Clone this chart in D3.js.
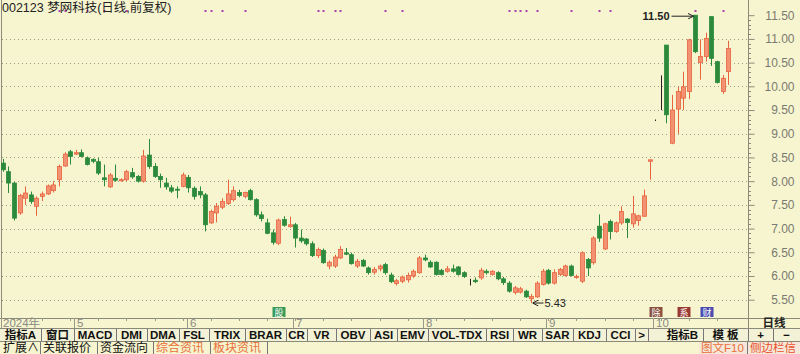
<!DOCTYPE html>
<html>
<head>
<meta charset="utf-8">
<script src="https://cdn.jsdelivr.net/npm/d3@7/dist/d3.min.js"></script>
<style>
  body { margin: 0; background: #f7f5cf; }
  svg { display: block; font-family: Arial, "Liberation Sans", "Noto Sans CJK SC", sans-serif; }
</style>
</head>
<body>
<div id="chart"></div>
<script>
// Daily candles, 2024-04-12 .. 2024-10-25 (前复权)
var opens = [8.38,8.20,7.96,7.33,7.64,7.71,7.47,7.68,7.73,7.80,8.03,8.32,8.62,8.57,8.60,8.49,8.46,8.41,8.07,7.88,
             8.06,8.01,8.03,8.18,8.10,8.00,8.55,8.31,8.10,7.96,7.86,7.83,7.89,8.08,7.85,7.78,7.71,7.12,7.33,7.45,
             7.53,7.61,7.76,7.68,7.80,7.61,7.29,7.12,6.91,6.69,7.19,7.04,7.08,6.80,6.78,6.68,6.43,6.54,6.21,6.21,
             6.38,6.49,6.45,6.21,6.33,6.17,6.08,6.15,6.24,6.02,5.84,5.89,5.92,6.00,6.07,6.38,6.29,6.29,6.12,6.10,
             6.15,6.19,6.07,5.87,5.91,5.96,6.10,6.03,6.07,5.94,5.85,5.65,5.66,5.68,5.52,5.56,5.82,6.12,5.85,6.03,
             6.01,6.21,5.97,5.89,6.35,6.28,7.05,6.57,7.15,6.94,7.12,7.20,7.10,7.17,7.26,8.42,9.30,10.23,10.87,8.80,
             9.52,9.75,9.89,11.50,10.50,10.63,11.47,10.52,9.89,10.31];
var highs = [8.47,8.31,7.98,7.73,7.89,7.78,7.68,7.78,7.93,8.00,8.35,8.61,8.66,8.66,8.67,8.52,8.48,8.49,8.35,8.17,
             8.35,8.06,8.24,8.28,8.13,8.66,8.89,8.38,8.16,8.07,7.92,7.89,8.18,8.13,7.89,7.89,7.75,7.40,7.54,7.64,
             8.03,7.89,7.82,7.78,7.84,7.64,7.36,7.21,6.98,7.21,7.26,7.25,7.12,6.98,6.80,6.73,6.60,6.58,6.33,6.45,
             6.63,6.59,6.49,6.36,6.36,6.20,6.19,6.24,6.28,6.07,5.94,6.01,6.07,6.14,6.42,6.45,6.33,6.31,6.15,6.21,
             6.24,6.21,6.10,5.94,5.97,6.17,6.14,6.12,6.10,5.98,5.89,5.79,5.77,5.71,5.62,5.89,6.15,6.15,6.14,6.17,
             6.24,6.24,6.03,6.52,6.38,6.84,7.30,7.12,7.19,7.15,7.47,7.22,7.69,7.29,7.82,8.45,9.30,10.23,10.87,9.82,
             9.99,10.31,11.00,11.50,10.99,11.13,11.47,10.54,10.24,10.96];
var lows  = [8.20,7.75,7.17,7.29,7.50,7.52,7.27,7.58,7.71,7.76,7.89,8.30,8.35,8.55,8.50,8.33,8.38,8.13,7.89,7.86,
             7.99,7.99,8.00,8.05,7.97,7.97,8.26,8.07,7.86,7.82,7.75,7.64,7.87,7.76,7.61,7.64,6.94,7.10,7.13,7.41,
             7.50,7.57,7.66,7.64,7.59,7.25,7.15,6.88,6.66,6.65,7.04,7.02,6.60,6.70,6.64,6.40,6.38,6.26,6.14,6.17,
             6.36,6.44,6.24,6.17,6.19,6.03,6.03,6.10,6.03,5.85,5.80,5.85,5.86,5.96,6.05,6.31,6.17,6.01,6.01,6.07,
             6.07,6.01,5.96,5.80,5.85,5.92,6.03,6.01,5.91,5.81,5.65,5.61,5.63,5.54,5.43,5.54,5.80,5.82,5.82,6.00,
             5.99,5.99,5.94,5.85,6.00,6.24,6.72,6.55,6.77,6.91,7.08,6.80,7.02,7.06,7.25,8.03,9.30,9.50,9.22,8.78,
             9.00,9.50,9.73,10.70,10.14,10.52,10.43,10.06,9.84,10.03];
var closes = [8.24,7.96,7.22,7.70,7.75,7.57,7.64,7.73,7.90,7.92,8.31,8.57,8.52,8.60,8.52,8.35,8.42,8.17,8.03,8.13,
             8.02,8.03,8.20,8.09,8.00,8.53,8.31,8.10,8.03,7.88,7.79,7.81,8.13,7.86,7.68,7.71,7.08,7.36,7.47,7.57,
             7.73,7.80,7.70,7.76,7.61,7.29,7.21,6.90,6.71,7.18,7.07,7.08,6.80,6.74,6.68,6.43,6.56,6.28,6.29,6.40,
             6.56,6.46,6.26,6.31,6.21,6.07,6.14,6.21,6.07,5.88,5.90,5.98,6.01,6.10,6.38,6.34,6.19,6.03,6.03,6.15,
             6.10,6.03,5.99,5.87,5.88,6.12,6.07,6.10,5.94,5.86,5.68,5.75,5.73,5.56,5.57,5.85,6.10,5.85,6.07,6.14,
             6.21,6.01,5.99,6.49,6.17,6.80,6.80,7.10,6.94,7.12,7.36,7.13,7.31,7.27,7.69,8.45,9.30,10.23,9.40,9.50,
             9.89,9.99,10.98,10.73,10.63,11.01,10.59,10.08,10.17,10.80];

// trading calendar
var startDay = "2024-04-12", endDay = "2024-10-25";
var holidays = ["2024-05-01","2024-05-02","2024-05-03","2024-06-10","2024-09-16","2024-09-17",
                "2024-10-01","2024-10-02","2024-10-03","2024-10-04","2024-10-07"];
var priceTicks = [5.5, 6, 6.5, 7, 7.5, 8, 8.5, 9, 9.5, 10, 10.5, 11, 11.5];
// info-mine markers on top row (candle index)
var markerIdx = [11, 12, 16, 19, 23, 37, 38, 40, 44, 57, 58, 60, 61, 69, 72, 91, 92, 93, 94, 96, 102, 107, 109, 124, 129];

var buttonsA = ["指标A","窗口","MACD","DMI","DMA","FSL","TRIX","BRAR","CR","VR","OBV","ASI","EMV","VOL-TDX","RSI","WR","SAR","KDJ","CCI",">"];
var buttonsB = ["指标B","模 板","+","−"];
var tabs = ["扩展∧","关联报价","资金流向","综合资讯","板块资讯"];

var fmt = d3.timeFormat("%Y-%m-%d");
var dates = d3.timeDay.range(d3.timeParse("%Y-%m-%d")(startDay), d3.timeDay.offset(d3.timeParse("%Y-%m-%d")(endDay), 1))
  .filter(function(d) { return d.getDay() !== 0 && d.getDay() !== 6 && holidays.indexOf(fmt(d)) < 0; })
  .map(fmt);

var data = dates.map(function(d, i) {
  return {date: d, o: opens[i], h: highs[i], l: lows[i], c: closes[i]};
});

var W = 800, H = 354,
    plotRight = 748, plotBottom = 318;

var svg = d3.select("#chart").append("svg").attr("width", W).attr("height", H);

svg.append("rect").attr("width", W).attr("height", H).attr("fill", "#f7f5cf");

var x = d3.scaleBand().domain(dates).range([-0.1, 731.1]).padding(0);
var y = d3.scaleLinear().domain([5.5, 11.5]).range([299.7, 15.2]);

function cx(d) { return Math.round(x(d.date) + x.bandwidth() / 2) + 0.5; }

// gridlines
svg.append("g").selectAll("line").data(priceTicks.slice(0, -1)).enter().append("line")
  .attr("x1", 2).attr("x2", plotRight)
  .attr("y1", function(d) { return Math.round(y(d)) + 0.5; })
  .attr("y2", function(d) { return Math.round(y(d)) + 0.5; })
  .attr("stroke", "#a09f8a").attr("stroke-dasharray", "1,3");

// frame lines
svg.append("line").attr("x1", 1.5).attr("x2", 1.5).attr("y1", 0).attr("y2", plotBottom).attr("stroke", "#8a8a80");
svg.append("line").attr("x1", plotRight + 0.5).attr("x2", plotRight + 0.5).attr("y1", 0).attr("y2", 328).attr("stroke", "#8a8a7a");

// right axis
var yAxis = d3.axisRight(y).tickValues(priceTicks).tickSize(6).tickFormat(d3.format(".2f"));
var ax = svg.append("g").attr("transform", "translate(" + (plotRight + 0.5) + ",0)").call(yAxis);
ax.select(".domain").remove();
ax.selectAll("line").attr("stroke", "#8a8a7a");
ax.selectAll("text").attr("x", 46).attr("text-anchor", "end").attr("fill", "#7a7a72").attr("font-size", 12);
var minor = d3.range(55, 116).map(function(v) { return v / 10; }).filter(function(v) { return Math.round(v * 10) % 5 !== 0; });
svg.append("g").selectAll("line").data(minor).enter().append("line")
  .attr("x1", plotRight).attr("x2", plotRight + 3)
  .attr("y1", function(d) { return Math.round(y(d)) + 0.5; }).attr("y2", function(d) { return Math.round(y(d)) + 0.5; })
  .attr("stroke", "#8a8a7a");

// candles
function colorOf(d) {
  if (d.c > d.o) return {fill: "#f29273", stroke: "#e8643f"};
  if (d.c < d.o) return {fill: "#2c8a3c", stroke: "#2c8a3c"};
  return {fill: "#222", stroke: "#222"};
}
var candle = svg.append("g").selectAll("g").data(data).enter().append("g");
candle.append("line")
  .attr("x1", cx).attr("x2", cx)
  .attr("y1", function(d) { return y(d.h); })
  .attr("y2", function(d) { return d.h === d.l ? y(d.l) + 1.5 : y(d.l); })
  .attr("stroke", function(d) { return colorOf(d).stroke; });
candle.append("rect")
  .attr("x", function(d) { return cx(d) - 2; })
  .attr("width", 4)
  .attr("y", function(d) { return y(Math.max(d.o, d.c)); })
  .attr("height", function(d) { return Math.max(1, Math.abs(y(d.o) - y(d.c))); })
  .attr("fill", function(d) { return d.o === d.c ? "none" : colorOf(d).fill; })
  .attr("stroke", function(d) { return d.o === d.c ? "none" : colorOf(d).stroke; })
  .attr("stroke-width", 0.8);

// info markers
svg.append("g").selectAll("rect").data(markerIdx).enter().append("rect")
  .attr("x", function(i) { return cx(data[i - 1]) - 1; }).attr("y", 10)
  .attr("width", 2).attr("height", 2).attr("fill", "#b040b0");

// high / low annotations
var hi = d3.maxIndex(data, function(d) { return d.h; }),
    lo = d3.minIndex(data, function(d) { return d.l; });
svg.append("defs").append("marker").attr("id", "ah").attr("viewBox", "0 0 6 6").attr("refX", 6).attr("refY", 3)
  .attr("markerWidth", 6).attr("markerHeight", 6).attr("orient", "auto")
  .append("path").attr("d", "M0,0L6,3L0,6").attr("fill", "none").attr("stroke", "#222");
var hy = y(data[hi].h) + 1;
svg.append("line").attr("x1", cx(data[hi]) - 24).attr("x2", cx(data[hi]) - 2).attr("y1", hy).attr("y2", hy)
  .attr("stroke", "#222").attr("marker-end", "url(#ah)");
svg.append("text").attr("x", cx(data[hi]) - 26).attr("y", hy + 4).attr("text-anchor", "end")
  .attr("font-size", 11).attr("font-weight", "bold").attr("fill", "#222").text(data[hi].h.toFixed(2));
var ly = y(data[lo].l);
svg.append("line").attr("x1", cx(data[lo]) + 12).attr("x2", cx(data[lo]) + 1).attr("y1", ly).attr("y2", ly)
  .attr("stroke", "#222").attr("marker-end", "url(#ah)");
svg.append("text").attr("x", cx(data[lo]) + 13).attr("y", ly + 4)
  .attr("font-size", 11).attr("fill", "#222").text(data[lo].l.toFixed(2));

// title
svg.append("text").attr("x", 2).attr("y", 12).attr("font-size", 12.5).attr("fill", "#222")
  .text("002123 梦网科技(日线,前复权)");

// event icons
var icons = [{i: 50, t: "股", bg: "#3a9a5a"}, {i: 117, t: "除", bg: "#8a5040"}, {i: 122, t: "系", bg: "#9a3a30"}, {i: 126, t: "财", bg: "#4a4ab0"}];
var ic = svg.append("g").selectAll("g").data(icons).enter().append("g")
  .attr("transform", function(d) { return "translate(" + (cx(data[d.i - 1]) - 6) + ",307)"; });
ic.append("rect").attr("width", 13).attr("height", 10).attr("fill", function(d) { return d.bg; });
ic.append("text").attr("x", 6.5).attr("y", 9).attr("text-anchor", "middle").attr("font-size", 9).attr("fill", "#fff").text(function(d) { return d.t; });

// date strip
svg.append("line").attr("x1", 0).attr("x2", W).attr("y1", plotBottom + 0.5).attr("y2", plotBottom + 0.5).attr("stroke", "#8a8a7a");
var monthStarts = data.filter(function(d, i) { return i === 0 || d.date.slice(5, 7) !== data[i - 1].date.slice(5, 7); });
var ds = svg.append("g").selectAll("g").data(monthStarts).enter().append("g");
ds.append("line")
  .attr("x1", function(d, i) { return i === 0 ? 1.5 : Math.round(x(d.date)) + 1.5; })
  .attr("x2", function(d, i) { return i === 0 ? 1.5 : Math.round(x(d.date)) + 1.5; })
  .attr("y1", plotBottom).attr("y2", 328).attr("stroke", "#9a9a8a");
ds.append("text")
  .attr("x", function(d, i) { return i === 0 ? 3 : Math.round(x(d.date)) + 4; })
  .attr("y", 327).attr("font-size", 11.5).attr("fill", "#8a8a84")
  .text(function(d, i) { return i === 0 ? d.date.slice(0, 4) + "年" : String(+d.date.slice(5, 7)); });
svg.append("g").selectAll("line").data(data.filter(function(d, i) { return i % 5 === 2; })).enter().append("line")
  .attr("x1", cx).attr("x2", cx).attr("y1", plotBottom).attr("y2", plotBottom + 3).attr("stroke", "#9a9a8a");
svg.append("text").attr("x", 774).attr("y", 327).attr("text-anchor", "middle").attr("font-size", 11.5)
  .attr("font-weight", "bold").attr("fill", "#222").text("日线");

// indicator buttons
svg.append("rect").attr("x", 0).attr("y", 328).attr("width", W).attr("height", 13).attr("fill", "#f3f1d6");
svg.append("line").attr("x1", 0).attr("x2", W).attr("y1", 328.5).attr("y2", 328.5).attr("stroke", "#8a8a7a");
svg.append("line").attr("x1", 0).attr("x2", W).attr("y1", 341.5).attr("y2", 341.5).attr("stroke", "#8a8a7a");
var bx = [0, 41, 74, 116, 147, 179, 209, 245, 286, 307, 336, 370, 397, 428, 486, 513, 542, 573, 606, 635, 648];
var bb = svg.append("g").selectAll("g").data(buttonsA).enter().append("g");
bb.append("text").attr("x", function(d, i) { return (bx[i] + bx[i + 1]) / 2; }).attr("y", 339)
  .attr("text-anchor", "middle").attr("font-size", 11.5).attr("font-weight", "bold").attr("fill", "#111").text(function(d) { return d; });
bb.append("line").attr("x1", function(d, i) { return bx[i + 1] + 0.5; }).attr("x2", function(d, i) { return bx[i + 1] + 0.5; })
  .attr("y1", 329).attr("y2", 341).attr("stroke", "#777");
var bx2 = [662, 703, 748, 773, 800];
var bb2 = svg.append("g").selectAll("g").data(buttonsB).enter().append("g");
bb2.append("text").attr("x", function(d, i) { return (bx2[i] + bx2[i + 1]) / 2; }).attr("y", 339)
  .attr("text-anchor", "middle").attr("font-size", 11.5).attr("font-weight", "bold").attr("fill", "#111").text(function(d) { return d; });
bb2.append("line").attr("x1", function(d, i) { return bx2[i + 1] + 0.5; }).attr("x2", function(d, i) { return bx2[i + 1] + 0.5; })
  .attr("y1", 329).attr("y2", 341).attr("stroke", "#777");

// bottom tabs
var tx = [0, 40, 97, 153, 210, 267];
var tb = svg.append("g").selectAll("g").data(tabs).enter().append("g");
tb.append("text").attr("x", function(d, i) { return tx[i] + 3; }).attr("y", 352).attr("font-size", 12)
  .attr("fill", function(d, i) { return i >= 3 ? "#e8703a" : "#111"; }).text(function(d) { return d; });
tb.append("line").attr("x1", function(d, i) { return tx[i + 1] + 0.5; }).attr("x2", function(d, i) { return tx[i + 1] + 0.5; })
  .attr("y1", 342).attr("y2", 354).attr("stroke", "#777");
svg.append("rect").attr("x", 699).attr("y", 342).attr("width", 101).attr("height", 12).attr("fill", "#f6e8d8");
svg.append("text").attr("x", 701).attr("y", 352).attr("font-size", 11.5).attr("fill", "#e8703a").text("图文F10");
svg.append("line").attr("x1", 747.5).attr("x2", 747.5).attr("y1", 342).attr("y2", 354).attr("stroke", "#777");
svg.append("text").attr("x", 750).attr("y", 352).attr("font-size", 11.5).attr("fill", "#e8502a").text("侧边栏信");
</script>
</body>
</html>
